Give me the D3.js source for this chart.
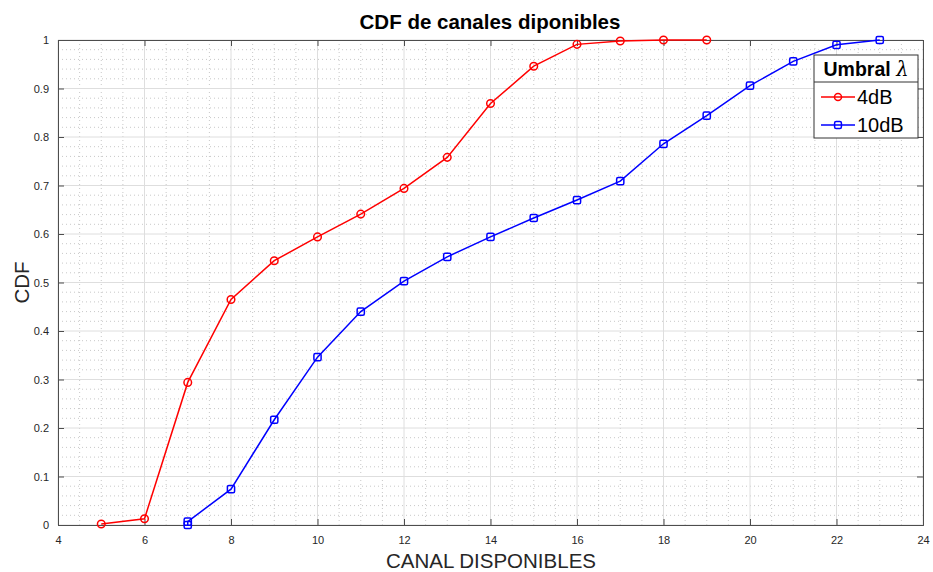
<!DOCTYPE html>
<html><head><meta charset="utf-8">
<script src="https://cdn.jsdelivr.net/npm/d3@7"></script>
<style>body{margin:0;background:#fff}svg{display:block;font-family:"Liberation Sans",Arial,sans-serif}</style>
</head><body><svg id="c" width="933" height="572"></svg>
<script>
const redX = [5,6,7,8,9,10,11,12,13,14,15,16,17,18,19];
const redY = [0.002,0.013,0.294,0.465,0.545,0.594,0.641,0.694,0.758,0.869,0.946,0.991,0.998,1.0,1.0];
const blueX = [7,7,8,9,10,11,12,13,14,15,16,17,18,19,20,21,22,23];
const blueY = [0.0,0.007,0.074,0.217,0.346,0.440,0.503,0.553,0.594,0.633,0.670,0.709,0.786,0.844,0.906,0.956,0.990,1.0];
const xTicks = [4,6,8,10,12,14,16,18,20,22,24];
const yTicks = [0,0.1,0.2,0.3,0.4,0.5,0.6,0.7,0.8,0.9,1];
const yTickLabels = ["0","0.1","0.2","0.3","0.4","0.5","0.6","0.7","0.8","0.9","1"];
const seriesNames = ["4dB","10dB"];

const svg = d3.select("#c");
const L=58, R=923, T=40, B=525;
const x = d3.scaleLinear().domain([4,24]).range([L,R]);
const y = d3.scaleLinear().domain([0,1]).range([B,T]);

// minor grid
const xMinor = d3.range(4,24.001,0.5).filter(v=>Math.abs(v/2-Math.round(v/2))>1e-6);
const yMinor = d3.range(0,1.0001,0.02).filter(v=>Math.abs(v*10-Math.round(v*10))>1e-6);
const g = svg.append("g");
g.selectAll(".xm").data(xMinor).join("line").attr("x1",d=>x(d)).attr("x2",d=>x(d)).attr("y1",T).attr("y2",B)
 .attr("stroke","#c8c8c8").attr("stroke-width",1).attr("stroke-dasharray","1,3");
g.selectAll(".ym").data(yMinor).join("line").attr("y1",d=>y(d)).attr("y2",d=>y(d)).attr("x1",L).attr("x2",R)
 .attr("stroke","#c8c8c8").attr("stroke-width",1).attr("stroke-dasharray","1,3");
// major grid
g.selectAll(".xg").data(xTicks).join("line").attr("x1",d=>x(d)).attr("x2",d=>x(d)).attr("y1",T).attr("y2",B)
 .attr("stroke","#dedede").attr("stroke-width",1);
g.selectAll(".yg").data(yTicks).join("line").attr("y1",d=>y(d)).attr("y2",d=>y(d)).attr("x1",L).attr("x2",R)
 .attr("stroke","#dedede").attr("stroke-width",1);

// axes
const axCol="#4d4d4d";
const xa = svg.append("g").attr("transform",`translate(0,${B})`)
 .call(d3.axisBottom(x).tickValues(xTicks).tickSize(-6).tickPadding(9).tickFormat(d3.format("d")));
const xt = svg.append("g").attr("transform",`translate(0,${T})`)
 .call(d3.axisTop(x).tickValues(xTicks).tickSize(-6).tickFormat(""));
const ya = svg.append("g").attr("transform",`translate(${L},0)`)
 .call(d3.axisLeft(y).tickValues(yTicks).tickSize(-6).tickPadding(9).tickFormat((d,i)=>yTickLabels[i]));
const yr = svg.append("g").attr("transform",`translate(${R},0)`)
 .call(d3.axisRight(y).tickValues(yTicks).tickSize(-6).tickFormat(""));
[xa,xt,ya,yr].forEach(a=>{
  a.selectAll("path").attr("stroke",axCol).attr("stroke-width",1);
  a.selectAll("line").attr("stroke",axCol);
  a.selectAll("text").attr("fill","#262626").style("font-size","11px").style("font-family","'Liberation Sans',Arial,sans-serif");
});
xa.selectAll("text").attr("dy","0.9em");

// lines
const line = d3.line().x(d=>x(d[0])).y(d=>y(d[1]));
const red = redX.map((v,i)=>[v,redY[i]]);
const blue = blueX.map((v,i)=>[v,blueY[i]]);
svg.append("path").datum(red).attr("d",line).attr("fill","none").attr("stroke","#ff0000").attr("stroke-width",1.5);
svg.selectAll(".rm").data(red).join("circle").attr("cx",d=>x(d[0])).attr("cy",d=>y(d[1])).attr("r",3.8)
 .attr("fill","none").attr("stroke","#ff0000").attr("stroke-width",1.5);
svg.append("path").datum(blue).attr("d",line).attr("fill","none").attr("stroke","#0000ff").attr("stroke-width",1.5);
svg.selectAll(".bm").data(blue).join("rect").attr("x",d=>x(d[0])-3.6).attr("y",d=>y(d[1])-3.6).attr("width",7.2).attr("height",7.2)
 .attr("rx",1.5).attr("fill","none").attr("stroke","#0000ff").attr("stroke-width",1.5);

// title & labels
svg.append("text").attr("x",490).attr("y",29).attr("text-anchor","middle").attr("font-weight","bold")
 .style("font-size","20.5px").attr("fill","#000").text("CDF de canales diponibles");
svg.append("text").attr("x",491).attr("y",568).attr("text-anchor","middle")
 .style("font-size","20.5px").attr("fill","#262626").text("CANAL DISPONIBLES");
svg.append("text").attr("transform",`translate(29,${(T+B)/2}) rotate(-90)`).attr("text-anchor","middle")
 .style("font-size","20.5px").attr("fill","#262626").text("CDF");

// legend
const lg = svg.append("g");
const lx=814, ly=55, lw=104, lh=83;
lg.append("rect").attr("x",lx).attr("y",ly).attr("width",lw).attr("height",lh).attr("fill","#fff").attr("stroke","#333").attr("stroke-width",1);
lg.append("line").attr("x1",lx).attr("x2",lx+lw).attr("y1",ly+27).attr("y2",ly+27).attr("stroke","#333");
const tt = lg.append("text").attr("x",lx+lw/2).attr("y",ly+21).attr("text-anchor","middle").style("font-size","19.5px").attr("fill","#000");
tt.append("tspan").attr("font-weight","bold").text("Umbral ");
tt.append("tspan").style("font-family","'DejaVu Serif',serif").attr("font-style","italic").text("λ");
const cols=["#ff0000","#0000ff"];
seriesNames.forEach((n,i)=>{
  const yy = ly+42+i*28;
  lg.append("line").attr("x1",lx+7).attr("x2",lx+41).attr("y1",yy).attr("y2",yy).attr("stroke",cols[i]).attr("stroke-width",1.5);
  if(i===0) lg.append("circle").attr("cx",lx+24).attr("cy",yy).attr("r",3.5).attr("fill","none").attr("stroke",cols[i]).attr("stroke-width",1.5);
  else lg.append("rect").attr("x",lx+24-3.4).attr("y",yy-3.4).attr("width",6.8).attr("height",6.8).attr("rx",1.5).attr("fill","none").attr("stroke",cols[i]).attr("stroke-width",1.5);
  lg.append("text").attr("x",lx+43).attr("y",yy+7).style("font-size","20px").attr("fill","#000").text(n);
});
</script></body></html>
